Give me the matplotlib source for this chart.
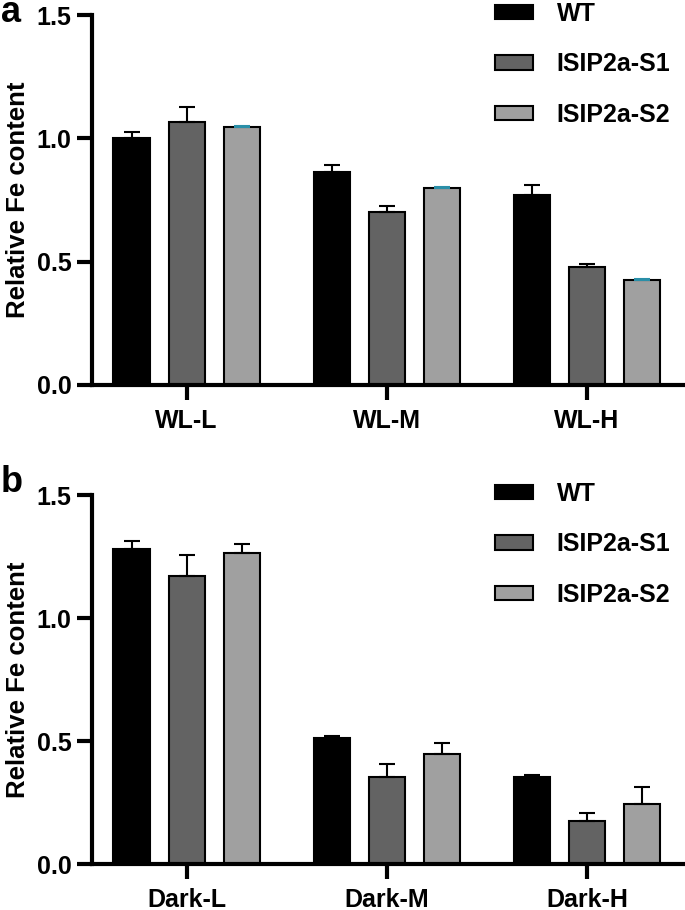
import matplotlib
matplotlib.use("Agg")
import matplotlib.pyplot as plt
import numpy as np

plt.rcParams.update({
    "font.family": "Liberation Sans",
    "font.weight": "bold",
    "axes.linewidth": 3,
})

series = ["WT", "ISIP2a-S1", "ISIP2a-S2"]
colors = ["#000000", "#636363", "#a0a0a0"]

groups_a = ["WL-L", "WL-M", "WL-H"]
means_a = {
    "WT":        [1.00, 0.865, 0.77],
    "ISIP2a-S1": [1.065, 0.70, 0.48],
    "ISIP2a-S2": [1.045, 0.80, 0.425],
}
errs_a = {
    "WT":        [0.025, 0.025, 0.04],
    "ISIP2a-S1": [0.06, 0.025, 0.01],
    "ISIP2a-S2": [0.005, 0.004, 0.004],
}
ecolors_a = {"WT": "black", "ISIP2a-S1": "black", "ISIP2a-S2": "#2a8fa8"}

groups_b = ["Dark-L", "Dark-M", "Dark-H"]
means_b = {
    "WT":        [1.282, 0.513, 0.352],
    "ISIP2a-S1": [1.169, 0.352, 0.174],
    "ISIP2a-S2": [1.266, 0.449, 0.243],
}
errs_b = {
    "WT":        [0.03, 0.008, 0.01],
    "ISIP2a-S1": [0.088, 0.055, 0.032],
    "ISIP2a-S2": [0.036, 0.044, 0.072],
}
ecolors_b = {"WT": "black", "ISIP2a-S1": "black", "ISIP2a-S2": "black"}

fig = plt.figure(figsize=(6.85, 9.10), dpi=100)
ax_a = fig.add_axes([0.135, 0.577, 0.865, 0.4065])
ax_b = fig.add_axes([0.135, 0.0505, 0.865, 0.4055])


def draw_panel(ax, groups, means, errs, ecolors, letter, letter_y):
    x = np.arange(len(groups))
    width = 0.18
    offsets = [-0.275, 0.0, 0.275]
    handles = []
    for s, c, off in zip(series, colors, offsets):
        bars = ax.bar(x + off, means[s], width, color=c, edgecolor="black",
                      linewidth=1.5, label=s, zorder=2)
        ax.errorbar(x + off, means[s], yerr=[np.zeros(len(groups)), errs[s]],
                    fmt="none", ecolor=ecolors[s], elinewidth=1.5,
                    capsize=6, capthick=1.5, zorder=3)
        handles.append(bars)
    ax.set_xlim(-0.47, 2.49)
    ax.set_ylim(0, 1.5)
    ax.set_yticks([0, 0.5, 1.0, 1.5])
    ax.set_yticklabels(["0.0", "0.5", "1.0", "1.5"])
    ax.set_xticks(x)
    ax.set_xticklabels(groups)
    ax.spines["top"].set_visible(False)
    ax.spines["right"].set_visible(False)
    ax.tick_params(axis="both", width=3, length=11, labelsize=18, pad=4)
    ax.tick_params(axis="x", pad=6)
    for lab in ax.get_xticklabels() + ax.get_yticklabels():
        lab.set_fontweight("bold")
    ax.set_ylabel("Relative Fe content", fontsize=18.5, fontweight="bold", labelpad=5)
    ax.legend(handles=handles, labels=series, loc="upper left",
              bbox_to_anchor=(0.68, 1.035), frameon=False,
              borderaxespad=0, borderpad=0,
              handlelength=1.5, handleheight=0.5, labelspacing=1.05,
              handletextpad=0.95, prop={"weight": "bold", "size": 18})
    ax.text(-0.155, letter_y, letter, transform=ax.transAxes, fontsize=26,
            fontweight="bold", ha="left", va="baseline")


draw_panel(ax_a, groups_a, means_a, errs_a, ecolors_a, "a", 0.981)
draw_panel(ax_b, groups_b, means_b, errs_b, ecolors_b, "b", 1.008)

fig.savefig("out.png", dpi=100)
